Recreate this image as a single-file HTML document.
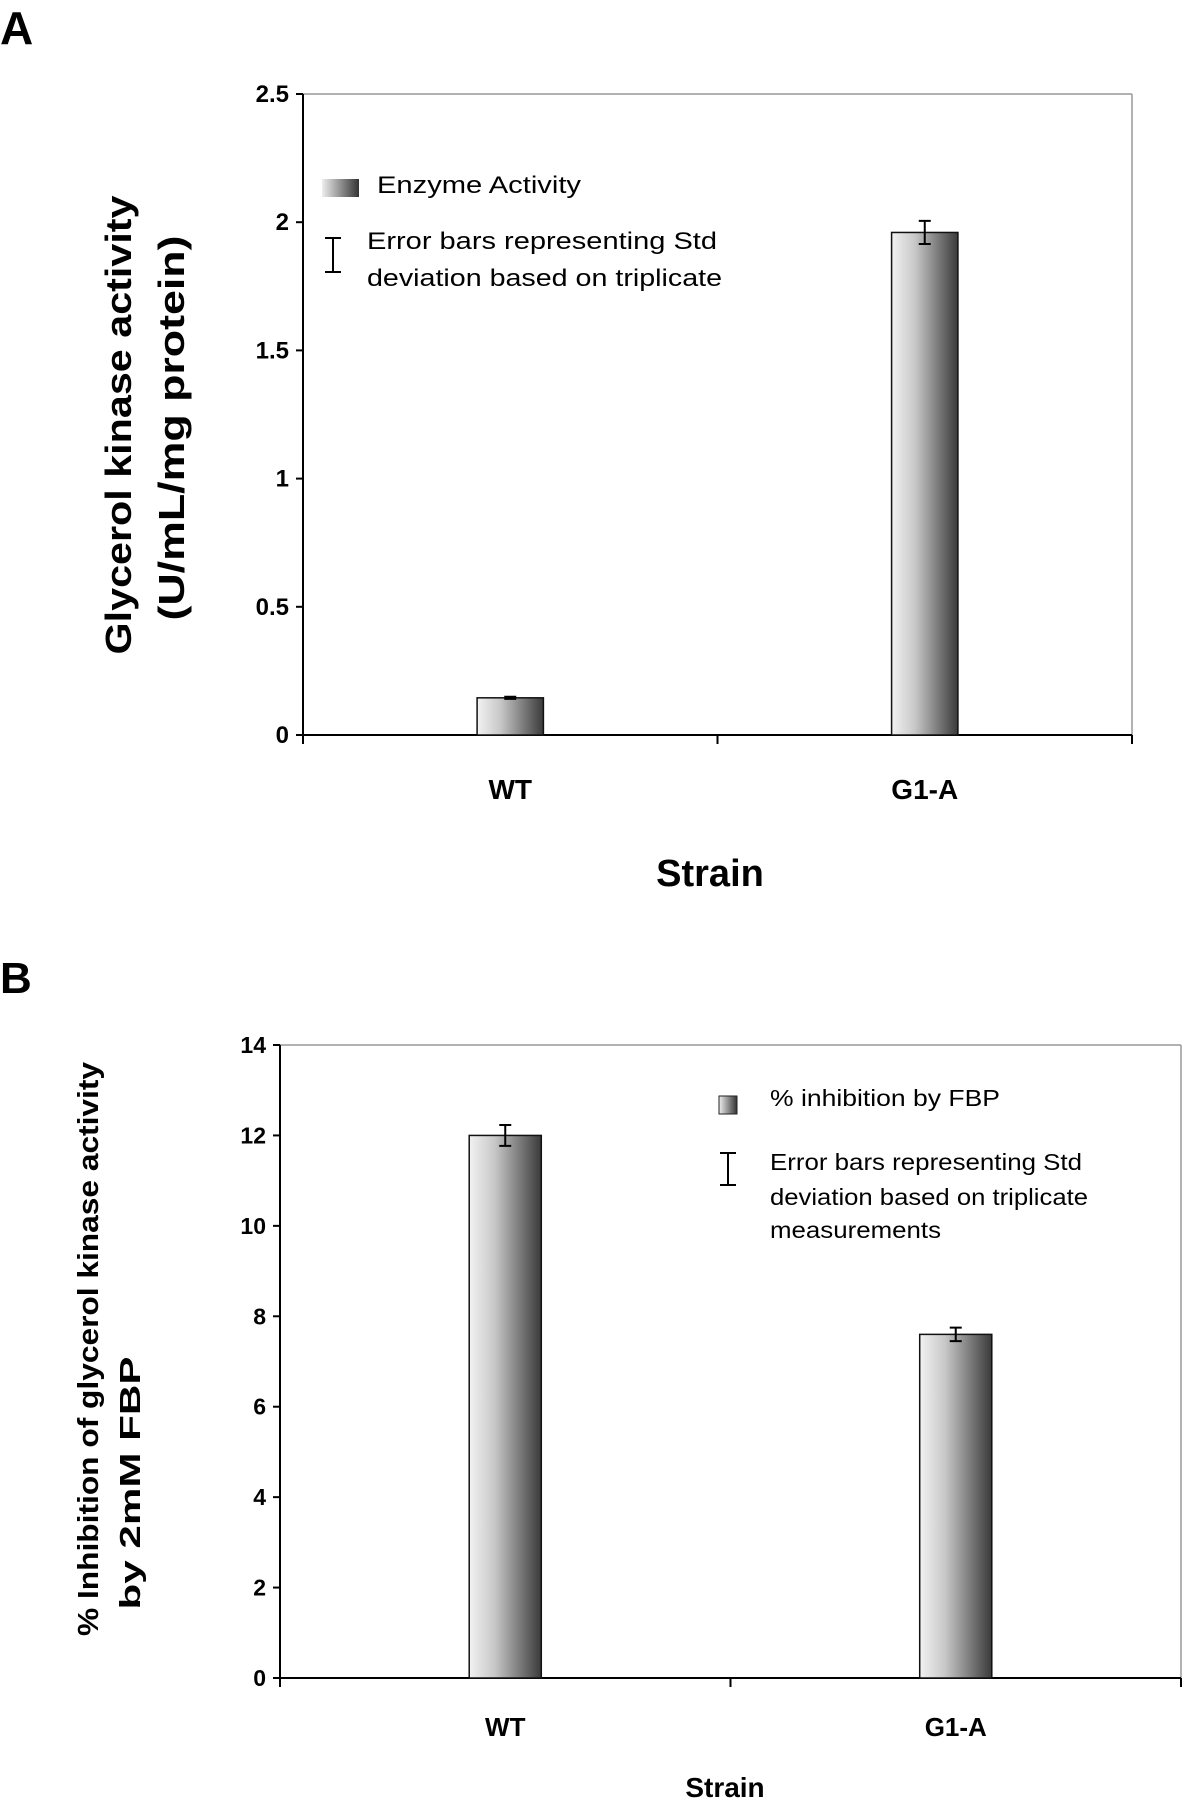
<!DOCTYPE html>
<html><head><meta charset="utf-8">
<style>
html,body{margin:0;padding:0;background:#fff;}
svg{display:block;font-family:"Liberation Sans",Arial,sans-serif;}
</style></head>
<body>
<svg id="fig" width="1186" height="1800" viewBox="0 0 1186 1800" xmlns="http://www.w3.org/2000/svg">
<defs>
<linearGradient id="barGrad" x1="0" y1="0" x2="1" y2="0">
<stop offset="0" stop-color="#f2f2f2"/><stop offset="0.35" stop-color="#c8c8c8"/><stop offset="1" stop-color="#3a3a3a"/>
</linearGradient>
<linearGradient id="swGrad" x1="0" y1="0" x2="1" y2="0">
<stop offset="0" stop-color="#eee"/><stop offset="1" stop-color="#333"/>
</linearGradient>
</defs>
<text x="0" y="44" font-size="46" font-weight="bold">A</text>
<text x="0" y="993" font-size="44" font-weight="bold">B</text>
<g id="chartA"></g>
<g id="chartB"></g>
</svg>
<script>
const categoriesA = ["WT", "G1-A"];
const valuesA = [0.145, 1.96];
const errorsA = [0.004, 0.045];
const ticksA = [0, 0.5, 1, 1.5, 2, 2.5];
const tickLabelsA = ["0", "0.5", "1", "1.5", "2", "2.5"];

const categoriesB = ["WT", "G1-A"];
const valuesB = [12.0, 7.6];
const errorsB = [0.23, 0.15];
const ticksB = [0, 2, 4, 6, 8, 10, 12, 14];
const tickLabelsB = ["0", "2", "4", "6", "8", "10", "12", "14"];

const NS = "http://www.w3.org/2000/svg";
function mk(parent, tag, attrs, text){
  const e = document.createElementNS(NS, tag);
  for (const k in attrs) e.setAttribute(k, attrs[k]);
  if (text !== undefined) e.textContent = text;
  parent.appendChild(e);
  return e;
}

function drawChart(g, cfg){
  const {left,right,top,bottom,max,cats,vals,errs,ticks,tickLabels,tickFont,catFont,catY,barFrac} = cfg;
  const yScale = v => bottom - (v/max)*(bottom-top);
  const bandW = (right-left)/cats.length;
  const xCenter = i => left + bandW*(i+0.5);
  let e;
  e = mk(g,"line",{x1:left,y1:top,x2:right,y2:top,stroke:"#999","stroke-width":1.5});
  
  
  e = mk(g,"line",{x1:right,y1:top,x2:right,y2:bottom,stroke:"#999","stroke-width":1.5});
  
  
  e = mk(g,"line",{x1:left,y1:top,x2:left,y2:bottom,stroke:"#000","stroke-width":2});
  
  
  e = mk(g,"line",{x1:left,y1:bottom,x2:right,y2:bottom,stroke:"#000","stroke-width":2});
  
  
  ticks.forEach((t,i)=>{
    const y = yScale(t);
    let tk = mk(g,"line",{x1:left-7,y1:y,x2:left,y2:y,stroke:"#000","stroke-width":2});
    
    
    let tl = mk(g,"text",{x:left-14,y:y+8,"text-anchor":"end","font-size":tickFont,"font-weight":"bold"},tickLabels[i]);
    
    
  });
  for(let i=0;i<=cats.length;i++){
    const x = left + bandW*i;
    let tk = mk(g,"line",{x1:x,y1:bottom,x2:x,y2:bottom+9,stroke:"#000","stroke-width":2});
    
    
  }
  cats.forEach((c,i)=>{
    const bw = bandW*barFrac;
    const x = xCenter(i)-bw/2;
    const y = yScale(vals[i]);
    let b = mk(g,"rect",{x:x,y:y,width:bw,height:bottom-y,fill:"url(#barGrad)",stroke:"#111","stroke-width":1.5});
    
    
    const yt = yScale(vals[i]+errs[i]), yb = yScale(vals[i]-errs[i]), cx = xCenter(i);
    let eb = mk(g,"path",{d:`M${cx},${yt}V${yb}M${cx-6},${yt}H${cx+6}M${cx-6},${yb}H${cx+6}`,stroke:"#000","stroke-width":2,fill:"none"});
    
    
    let cl = mk(g,"text",{x:cx,y:catY,"text-anchor":"middle","font-size":catFont,"font-weight":"bold"},c);
    
    
  });
}

const gA = document.getElementById("chartA");
drawChart(gA,{left:303,right:1132,top:94,bottom:735,max:2.5,cats:categoriesA,vals:valuesA,errs:errorsA,ticks:ticksA,tickLabels:tickLabelsA,tickFont:24,catFont:28,catY:799,barFrac:0.16});
const gB = document.getElementById("chartB");
drawChart(gB,{left:280,right:1181,top:1045,bottom:1678,max:14,cats:categoriesB,vals:valuesB,errs:errorsB,ticks:ticksB,tickLabels:tickLabelsB,tickFont:23,catFont:26,catY:1736,barFrac:0.16});

function txt(g,name,attrs,s){
  const e = mk(g,"text",attrs,s);
  
  
  return e;
}
txt(gA,"y-axis-title-line1",{x:0,y:0,transform:"translate(131,425) rotate(-90)","text-anchor":"middle","font-size":36,"font-weight":"bold",textLength:459,lengthAdjust:"spacingAndGlyphs"},"Glycerol kinase activity");
txt(gA,"y-axis-title-line2",{x:0,y:0,transform:"translate(184,428) rotate(-90)","text-anchor":"middle","font-size":36,"font-weight":"bold",textLength:385,lengthAdjust:"spacingAndGlyphs"},"(U/mL/mg protein)");
txt(gA,"x-axis-title",{x:710,y:886,"text-anchor":"middle","font-size":38,"font-weight":"bold"},"Strain");
let s = mk(gA,"rect",{x:322,y:179,width:37,height:18,fill:"url(#swGrad)"});


txt(gA,"legend-label-enzyme-activity",{x:377,y:193,"font-size":24,textLength:204,lengthAdjust:"spacingAndGlyphs"},"Enzyme Activity");
let ei = mk(gA,"path",{d:"M333,238V272M325,238H341M325,272H341",stroke:"#000","stroke-width":2,fill:"none"});


txt(gA,"legend-error-text-line1",{x:367,y:249,"font-size":24,textLength:350,lengthAdjust:"spacingAndGlyphs"},"Error bars representing Std");
txt(gA,"legend-error-text-line2",{x:367,y:286,"font-size":24,textLength:355,lengthAdjust:"spacingAndGlyphs"},"deviation based on triplicate");

txt(gB,"y-axis-title-line1",{x:0,y:0,transform:"translate(98,1349) rotate(-90)","text-anchor":"middle","font-size":29,"font-weight":"bold",textLength:574,lengthAdjust:"spacingAndGlyphs"},"% Inhibition of glycerol kinase activity");
txt(gB,"y-axis-title-line2",{x:0,y:0,transform:"translate(140,1483) rotate(-90)","text-anchor":"middle","font-size":29,"font-weight":"bold",textLength:253,lengthAdjust:"spacingAndGlyphs"},"by 2mM FBP");
txt(gB,"x-axis-title",{x:725,y:1797,"text-anchor":"middle","font-size":28,"font-weight":"bold"},"Strain");
let s2 = mk(gB,"rect",{x:719,y:1096,width:18,height:18,fill:"url(#swGrad)",stroke:"#222","stroke-width":1});


txt(gB,"legend-label-inhibition",{x:770,y:1106,"font-size":23,textLength:230,lengthAdjust:"spacingAndGlyphs"},"% inhibition by FBP");
let ei2 = mk(gB,"path",{d:"M728,1153V1185M720,1153H736M720,1185H736",stroke:"#000","stroke-width":2,fill:"none"});


txt(gB,"legend-error-text-line1",{x:770,y:1170,"font-size":23,textLength:312,lengthAdjust:"spacingAndGlyphs"},"Error bars representing Std");
txt(gB,"legend-error-text-line2",{x:770,y:1205,"font-size":23,textLength:318,lengthAdjust:"spacingAndGlyphs"},"deviation based on triplicate");
txt(gB,"legend-error-text-line3",{x:770,y:1238,"font-size":23,textLength:171,lengthAdjust:"spacingAndGlyphs"},"measurements");
</script>
</body></html>
